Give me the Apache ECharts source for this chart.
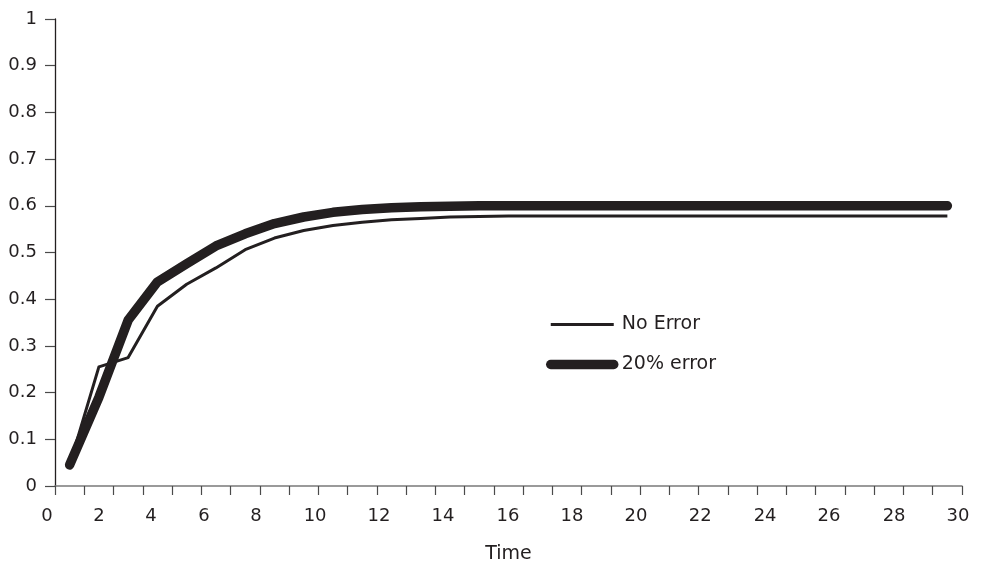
<!DOCTYPE html>
<html>
<head>
<meta charset="utf-8">
<script src="https://cdn.jsdelivr.net/npm/echarts@6/dist/echarts.min.js"></script>
<style>
  html, body { margin: 0; padding: 0; background: #ffffff; }
  #chart { width: 984px; height: 569px; }
</style>
</head>
<body>
<div id="chart"></div>
<script>
// Time steps (31 categories, points at category centres)
const timeSteps = ['1','2','3','4','5','6','7','8','9','10','11','12','13','14','15','16',
  '17','18','19','20','21','22','23','24','25','26','27','28','29','30','31'];

const noError = [0.045, 0.255, 0.275, 0.385, 0.432, 0.467, 0.506, 0.531, 0.547, 0.558,
  0.565, 0.570, 0.573, 0.576, 0.577, 0.578, 0.578, 0.578, 0.578, 0.578,
  0.578, 0.578, 0.578, 0.578, 0.578, 0.578, 0.578, 0.578, 0.578, 0.578, 0.578];

const error20 = [0.045, 0.19, 0.355, 0.437, 0.476, 0.514, 0.540, 0.562, 0.576, 0.586,
  0.592, 0.596, 0.598, 0.599, 0.600, 0.600, 0.600, 0.600, 0.600, 0.600,
  0.600, 0.600, 0.600, 0.600, 0.600, 0.600, 0.600, 0.600, 0.600, 0.600, 0.600];

// x tick labels as printed, and where they sit along the category span
const xTickLabels = ['0','2','4','6','8','10','12','14','16','18','20','22','24','26','28','30'];
const xTickLabelPos = [0, 1.50, 3.28, 5.09, 6.87, 8.89, 11.07, 13.26, 15.48, 17.67, 19.86, 22.05, 24.27, 26.45, 28.68, 30.86];

const INK = '#231f20';
const FONT = 'DejaVu Sans';

const chart = echarts.init(document.getElementById('chart'), null, { renderer: 'canvas' });

chart.setOption({
  animation: false,
  backgroundColor: '#ffffff',
  textStyle: { fontFamily: FONT, color: INK },
  grid: { left: 55, right: 22, top: 19, bottom: 79, containLabel: false },
  legend: {
    orient: 'vertical',
    left: 546,
    top: 315,
    padding: 0,
    itemWidth: 63,
    itemHeight: 20,
    itemGap: 21,
    itemStyle: { opacity: 0, borderWidth: 0 },
    lineStyle: { width: 'inherit', cap: 'inherit' },
    textStyle: { fontFamily: FONT, fontSize: 19, color: INK, padding: [0, 0, 0, 3] },
    data: ['No Error', '20% error']
  },
  xAxis: [
    {
      type: 'category',
      data: timeSteps,
      boundaryGap: true,
      name: 'Time',
      nameLocation: 'middle',
      nameGap: 59,
      nameTextStyle: { fontFamily: FONT, fontSize: 19, color: INK },
      axisLine: { show: true, lineStyle: { color: '#7a7a7a', width: 1.5 } },
      axisTick: { show: true, interval: 0, alignWithLabel: false, length: 9, lineStyle: { color: '#4a4a4a', width: 1.2 } },
      axisLabel: { show: false },
      splitLine: { show: false }
    },
    {
      type: 'value',
      position: 'bottom',
      min: 0,
      max: 31,
      axisLine: { show: false },
      axisTick: { show: false },
      splitLine: { show: false },
      axisLabel: {
        show: true,
        customValues: xTickLabelPos,
        showMinLabel: true,
        showMaxLabel: true,
        hideOverlap: false,
        margin: 21,
        fontFamily: FONT,
        fontSize: 18,
        color: INK,
        formatter: function (v) {
          let best = 0, bd = Infinity;
          for (let i = 0; i < xTickLabelPos.length; i++) {
            const d = Math.abs(xTickLabelPos[i] - v);
            if (d < bd) { bd = d; best = i; }
          }
          return best === 0 ? '{s|' + xTickLabels[0] + '}' : xTickLabels[best];
        },
        rich: { s: { fontFamily: FONT, fontSize: 18, color: INK, padding: [0, 16, 0, 0] } }
      }
    }
  ],
  yAxis: {
    type: 'value',
    min: 0,
    max: 1,
    interval: 0.1,
    axisLine: { show: true, lineStyle: { color: INK, width: 1.3 } },
    axisTick: { show: true, length: 10, lineStyle: { color: '#4a4a4a', width: 1.2 } },
    splitLine: { show: false },
    axisLabel: {
      margin: 18,
      fontFamily: FONT,
      fontSize: 18,
      color: INK,
      formatter: function (v) { return String(Math.round(v * 10) / 10); }
    }
  },
  series: [
    {
      name: 'No Error',
      type: 'line',
      xAxisIndex: 0,
      data: noError,
      symbol: 'none',
      smooth: false,
      z: 2,
      lineStyle: { color: INK, width: 3, join: 'round', cap: 'butt' },
      itemStyle: { color: INK }
    },
    {
      name: '20% error',
      type: 'line',
      xAxisIndex: 0,
      data: error20,
      symbol: 'none',
      smooth: false,
      z: 3,
      lineStyle: { color: INK, width: 9.5, join: 'round', cap: 'round' },
      itemStyle: { color: INK }
    }
  ]
});
</script>
</body>
</html>
